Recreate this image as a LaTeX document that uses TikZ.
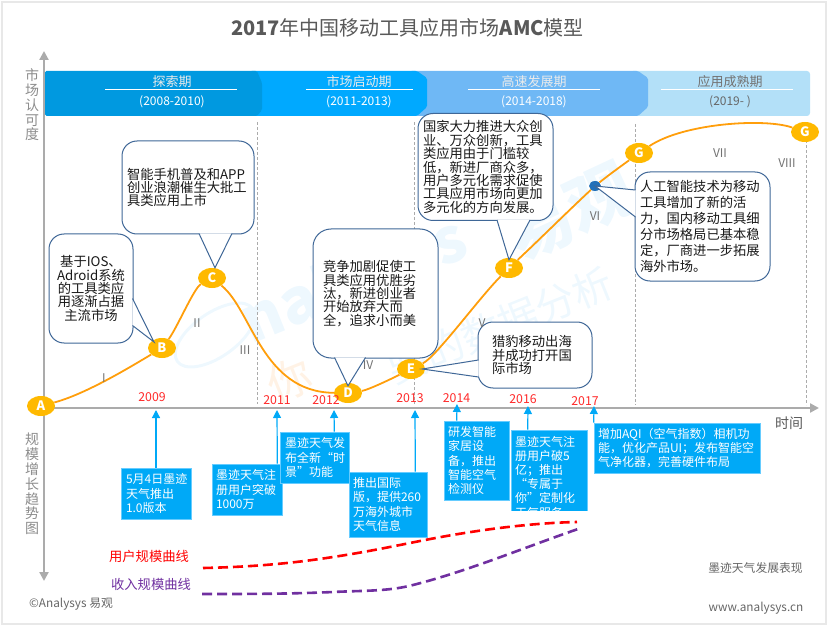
\documentclass[tikz,border=0pt]{standalone}
\usepackage{fontspec}
\setmainfont{Noto Sans CJK SC}
\usetikzlibrary{shapes.geometric}
\usetikzlibrary{arrows.meta}

\definecolor{axisgray}{HTML}{ABABAB}
\definecolor{labelgray}{HTML}{8C8C8C}
\definecolor{curveorange}{HTML}{FF9E0B}
\definecolor{pointgold}{HTML}{FFB900}
\definecolor{dotblue}{HTML}{2270B8}
\definecolor{bubbleblue}{HTML}{3F6797}
\definecolor{boxblue}{HTML}{00A9F7}
\definecolor{boxedge}{HTML}{66CCFF}
\definecolor{markred}{HTML}{FF2A2A}
\definecolor{incomepurple}{HTML}{7030A0}
\definecolor{watermark}{HTML}{EEF8FE}
\definecolor{stageA}{HTML}{0099E0}
\definecolor{stageB}{HTML}{00A9FF}
\definecolor{stageC}{HTML}{6FB8F5}
\definecolor{stageD}{HTML}{B3E0F8}

\begin{document}
\begin{tikzpicture}[x=1pt,y=-1pt]
    \useasboundingbox (0,0) rectangle (829,628);
    %% frame and title
    \draw [color=black!9, line width=2.5pt] (2,2) rectangle (826,624);
    \node (title) at (407.5,28) [text=black!65, font=\fontsize{20}{22}\selectfont] {\textbf{2017}年中国移动工具应用市场\textbf{AMC}模型};
    %% watermark
    \tikzstyle {wmark} = [text=watermark, inner sep=0pt];
    \node (wmLogo) [ellipse, draw=watermark, line width=3pt, minimum width=92pt, minimum height=44pt, rotate=35] at (215,335) {};
    \node (wmName) [wmark, rotate=22, font=\fontsize{62}{62}\selectfont\bfseries\itshape] at (355,283) {nalysys};
    \node (wmBrand) [wmark, rotate=25, font=\fontsize{66}{66}\selectfont\bfseries] at (570,212) {易观};
    \node (wmSlogan) [wmark, rotate=22, font=\fontsize{40}{40}\selectfont] at (500,325) {要的数据分析};
    \node (wmMark) [text=orange!10, inner sep=0pt, rotate=22, font=\fontsize{44}{44}\selectfont] at (290,380) {你};
    %% stage dividers
    \tikzstyle {divider} = [densely dashed, color=axisgray, line width=0.6pt];
    \coordinate (divA) at (257,122);
    \coordinate (divB) at (414.5,122);
    \coordinate (divC) at (635,124);
    \coordinate (divD) at (806,140);
    \draw [divider] (divA) -- (divA |- 0,404);
    \draw [divider] (divB) -- (divB |- 0,404);
    \draw [divider] (divC) -- (divC |- 0,405);
    \draw [divider] (divD) -- (divD |- 0,405);
    %% stage band
    \fill [stageD, rounded corners=3pt] (630,71) -- (810,71) -- (810,116) -- (630,116) -- cycle;
    \fill [stageC, rounded corners=1.5pt] (410,71) -- (638,71) -- (648,78) -- (648,107) -- (638,116) -- (410,116) -- cycle;
    \fill [stageB, rounded corners=1.5pt] (250,71) -- (417,71) -- (427,78) -- (427,107) -- (417,116) -- (250,116) -- cycle;
    \fill [stageA, rounded corners=1.5pt] (45,71) -- (257,71) -- (262,83) -- (262,110) -- (257,116) -- (45,116) -- cycle;
    \tikzstyle {stagename} = [text=white!92!black, inner sep=0pt, font=\fontsize{13}{14}\selectfont];
    \tikzstyle {stageyear} = [text=white, inner sep=0pt, font=\fontsize{12}{14}\selectfont];
    \node (nameA) [stagename] at (172,82) {探索期};
    \node (yearA) [stageyear] at (172,102) {(2008-2010)};
    \node (nameB) [stagename] at (359,82) {市场启动期};
    \node (yearB) [stageyear] at (359,102) {(2011-2013)};
    \node (nameC) [stagename] at (534,82) {高速发展期};
    \node (yearC) [stageyear] at (534,102) {(2014-2018)};
    \node (nameD) [stagename, text=black!55] at (730,82) {应用成熟期};
    \node (yearD) [stageyear, text=black!60] at (730,102) {(2019- )};
    \draw [white, line width=1pt] (105,90) -- (237,90);
    \draw [white, line width=1pt] (306,90) -- (413,90);
    \draw [white, line width=1pt] (468,90) -- (600,90);
    \draw [white, line width=1pt] (661,90) -- (793,90);
    %% axes
    \tikzstyle {axis} = [color=axisgray, line width=2.2pt, -{Triangle[length=9pt,width=9pt]}];
    \coordinate (origin) at (44,408);
    \coordinate (axisTop) at (44,51);
    \coordinate (axisDown) at (44,581);
    \coordinate (axisEnd) at (819,408);
    \draw [axis] (origin) -- (axisTop);
    \draw [axis] (origin) -- (axisDown);
    \draw [axis] (origin) -- (axisEnd);
    \tikzstyle {axislabel} = [text=labelgray, inner sep=0pt, align=center, font=\fontsize{14}{14.8}\selectfont];
    \node (labelY) [axislabel] at (32,105) {市\\场\\认\\可\\度};
    \node (labelZ) [axislabel] at (32,484) {规\\模\\增\\长\\趋\\势\\图};
    \node (labelX) [axislabel, text=black!65] at (789,423) {时间};
    %% market curve
    \tikzstyle {point} = [shape=ellipse, fill=pointgold, text=white, inner sep=0pt, minimum width=28pt, minimum height=20pt, font=\fontsize{13}{14}\selectfont\bfseries];
    \node (ptA) [point] at (41,406) {A};
    \node (ptB) [point] at (162,348) {B};
    \node (ptC) [point] at (212,278) {C};
    \node (ptD) [point] at (348,393) {D};
    \node (ptE) [point] at (411,369) {E};
    \node (ptF) [point] at (509,268) {F};
    \node (ptG) [point] at (639,153) {G};
    \node (ptH) [point] at (805,132) {G};
    \node (ptDot) [shape=ellipse, fill=dotblue, minimum width=12pt, minimum height=10pt, inner sep=0pt] at (595,186) {};
    \tikzstyle {curve} = [color=curveorange, line width=1.8pt];
    \draw [curve] (ptA) .. controls +(45,-12) and +(-30,18) .. (ptB);
    \draw [curve] (ptB) .. controls +(15,-20) and +(-18,10) .. (ptC);
    \draw [curve] (ptC) .. controls +(40,32) and +(-86,-1) .. (ptD);
    \draw [curve] (ptD) .. controls +(20,-3) and +(-20,10) .. (ptE);
    \draw [curve] (ptE) .. controls +(25,-12) and +(-30,30) .. (ptF);
    \draw [curve] (ptF) .. controls +(30,-28) and +(-30,28) .. (ptDot);
    \draw [curve] (ptDot) .. controls +(15,-12) and +(-15,11) .. (ptG);
    \draw [curve] (ptG) .. controls +(45,-30) and +(-40,-14) .. (ptH);
    %% callouts
    \tikzstyle {bubble} = [shape=rectangle, draw=bubbleblue, fill=white, line width=1pt, rounded corners=15pt, inner sep=0pt, align=left, text=black!90, font=\fontsize{13.3}{13.4}\selectfont];
    \tikzstyle {tail} = [draw=bubbleblue, fill=white, line width=1pt];
    \node (bubB) [bubble, minimum width=84pt, minimum height=109pt, text width=84pt, align=center] at (91,288.5) {基于IOS、\\Adroid系统\\的工具类应\\用逐渐占据\\主流市场};
    \filldraw [tail] ([shift={(-1,10)}]bubB.east) -- (154,342) -- ([shift={(-1,37)}]bubB.east);
    \node (bubC) [bubble, minimum width=132pt, minimum height=93pt, text width=122pt] at (188,187.5) {智能手机普及和APP\\创业浪潮催生大批工\\具类应用上市};
    \filldraw [tail] ([shift={(11,-1)}]bubC.south) -- ([xshift=3pt]ptC.north) -- ([shift={(44,-1)}]bubC.south);
    \node (bubD) [bubble, minimum width=125pt, minimum height=129pt, text width=105pt, rounded corners=18pt] at (375.5,293.5) {竞争加剧促使工\\具类应用优胜劣\\汰，新进创业者\\开始放弃大而\\全，追求小而美};
    \filldraw [tail] ([shift={(-41,-1)}]bubD.south) -- ([yshift=-3pt]ptD.north) -- ([shift={(-10,-1)}]bubD.south);
    \node (bubF) [bubble, minimum width=135pt, minimum height=107pt, text width=125pt] at (485.5,167) {国家大力推进大众创\\业、万众创新，工具\\类应用由于门槛较\\低，新进厂商众多，\\用户多元化需求促使\\工具应用市场向更加\\多元化的方向发展。};
    \filldraw [tail] ([shift={(11.5,-1)}]bubF.south) -- ([yshift=-2pt]ptF.north) -- ([shift={(44.5,-1)}]bubF.south);
    \node (bubG) [bubble, minimum width=135pt, minimum height=109pt, text width=125pt, font=\fontsize{13.3}{16}\selectfont] at (702.5,226.5) {人工智能技术为移动\\工具增加了新的活\\力，国内移动工具细\\分市场格局已基本稳\\定，厂商进一步拓展\\海外市场。};
    \filldraw [tail] ([shift={(1,-36.5)}]bubG.west) -- (ptDot.center) -- ([shift={(1,-9.5)}]bubG.west);
    \node (bubE) [bubble, minimum width=114pt, minimum height=66pt, text width=86pt] at (535,355) {猎豹移动出海\\并成功打开国\\际市场};
    \filldraw [tail] ([shift={(1,5)}]bubE.west) -- ([xshift=-3pt]ptE.east) -- ([shift={(1,22)}]bubE.west);
    %% curve section labels
    \tikzstyle {section} = [text=black!55, inner sep=0pt, font=\fontsize{12}{14}\selectfont];
    \node (secI) [section] at (104,378) {I};
    \node (secII) [section] at (197,323) {II};
    \node (secIII) [section] at (245,350) {III};
    \node (secIV) [section] at (368,365) {IV};
    \node (secV) [section] at (482,323) {V};
    \node (secVI) [section] at (595,216) {VI};
    \node (secVII) [section] at (720,153) {VII};
    \node (secVIII) [section] at (787,163) {VIII};
    %% years
    \tikzstyle {year} = [text=markred, inner sep=0pt, font=\fontsize{12.3}{14}\selectfont];
    \node (y2009) [year] at (152,397) {2009};
    \node (y2011) [year] at (277,400) {2011};
    \node (y2012) [year] at (326,400) {2012};
    \node (y2013) [year] at (410,398) {2013};
    \node (y2014) [year] at (456.5,398) {2014};
    \node (y2016) [year] at (523,399) {2016};
    \node (y2017) [year] at (585,401) {2017};
    %% events
    \tikzstyle {eventbox} = [shape=rectangle, fill=boxblue, draw=boxedge, line width=0.6pt, text=white, inner sep=0pt, align=left, font=\fontsize{12}{14.2}\selectfont];
    \node (boxA) [eventbox, minimum width=70pt, minimum height=51pt, text width=60pt] at (156,493.5) {5月4日墨迹\\天气推出\\1.0版本};
    \node (boxB) [eventbox, minimum width=70pt, minimum height=51pt, text width=62pt] at (247,489.5) {墨迹天气注\\册用户突破\\1000万};
    \node (boxC) [eventbox, minimum width=69pt, minimum height=51pt, text width=59pt] at (314.5,457.5) {墨迹天气发\\布全新“时\\景”功能};
    \node (boxD) [eventbox, minimum width=78pt, minimum height=65pt, text width=70pt] at (388,504.5) {推出国际\\版，提供260\\万海外城市\\天气信息};
    \node (boxE) [eventbox, minimum width=65pt, minimum height=79pt, text width=57pt] at (476.5,460.5) {研发智能\\家居设\\备，推出\\智能空气\\检测仪};
    \begin{scope}
      \clip (510,429) rectangle (588,510);
      \node (boxF) [eventbox, minimum width=76pt, minimum height=94pt, text width=68pt] at (549,477) {墨迹天气注\\册用户破5\\亿；推出\\“专属于\\你”定制化\\天气服务};
    \end{scope}
    \node (boxG) [eventbox, minimum width=166pt, minimum height=50pt, text width=158pt] at (677,448) {增加AQI（空气指数）相机功\\能，优化产品UI；发布智能空\\气净化器，完善硬件布局};
    \tikzstyle {eventarrow} = [color=boxblue, line width=1.2pt, -{Triangle[length=8pt,width=8pt]}];
    \draw [eventarrow] (boxA.north) -- (156,410);
    \draw [eventarrow] ([xshift=-5pt]boxB.north east) -- (277,410);
    \draw [eventarrow] ([xshift=-15pt]boxC.north east) -- (334,410);
    \draw [eventarrow] ([xshift=-12pt]boxD.north east) -- (415,410);
    \draw [eventarrow] ([xshift=13pt]boxE.north west) -- (457,404);
    \draw [eventarrow] ([xshift=17pt]boxF.north west) -- (528,406);
    \draw [eventarrow] (boxG.north west) -- (594,406);
    %% scale curves
    \tikzstyle {trend} = [line width=2.6pt, dash pattern=on 10pt off 5pt];
    \coordinate (userStart) at (203,568);
    \coordinate (userEnd) at (577,522);
    \coordinate (incomeStart) at (202,594);
    \coordinate (incomeEnd) at (578,529);
    \draw [trend, color=red] (userStart) .. controls +(45,-1) and +(-45,7) .. (333,557) .. controls +(30,-4.5) and +(-30,6) .. (420,541) .. controls +(50,-10) and +(-50,1) .. (userEnd);
    \draw [trend, color=incomepurple] (incomeStart) .. controls +(45,0) and +(-45,2) .. (333,592) .. controls +(30,-1.5) and +(-25,6.5) .. (413,585) .. controls +(55,-14) and +(-55,19) .. (incomeEnd);
    \node (userLabel) [text=red, inner sep=0pt, font=\fontsize{13.3}{14}\selectfont] at (149,556) {用户规模曲线};
    \node (incomeLabel) [text=incomepurple, inner sep=0pt, font=\fontsize{13.3}{14}\selectfont] at (151,584) {收入规模曲线};
    %% notes
    \tikzstyle {note} = [text=black!60, inner sep=0pt, font=\fontsize{11.8}{14}\selectfont];
    \node (noteShow) [note] at (755.5,568) {墨迹天气发展表现};
    \node (noteWeb) [note] at (756,608) {www.analysys.cn};
    \node (noteCopy) [note] at (71,604) {©Analysys 易观};
\end{tikzpicture}
\end{document}
